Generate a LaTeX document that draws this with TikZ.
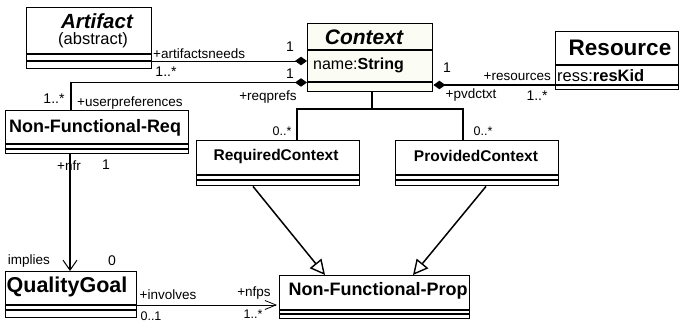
\documentclass[tikz,border=0pt]{standalone}
\usepackage{fontspec}
\setmainfont{Liberation Sans}
\usetikzlibrary{arrows.meta}
\definecolor{ctxfill}{RGB}{251,252,243}
\begin{document}
\begin{tikzpicture}[x=1pt,y=-1pt,
  cls/.style={draw, line width=1.4pt, inner sep=0pt, anchor=north west},
  sepl/.style={line width=1.4pt},
  ttl/.style={inner sep=0pt, font=\bfseries\fontsize{#1}{#1}\selectfont},
  ittl/.style={inner sep=0pt, font=\bfseries\itshape\fontsize{#1}{#1}\selectfont},
  attr/.style={inner sep=0pt, anchor=west, font=\fontsize{#1}{#1}\selectfont},
  lbl/.style={inner sep=0pt, font=\fontsize{13.5}{13.5}\selectfont},
  mult/.style={inner sep=0pt, font=\fontsize{14}{14}\selectfont},
  smult/.style={inner sep=0pt, font=\fontsize{12.5}{12.5}\selectfont},
  comp/.style={-{Diamond[length=12pt,width=8.5pt]}},
  thinlink/.style={line width=0.9pt},
  midlink/.style={line width=1.3pt},
  thicklink/.style={line width=1.6pt},
  gen/.style={line width=1.5pt, -{Triangle[open,length=15pt,width=15pt,fill=white,line width=1.4pt]}},
  nav/.style={-{Straight Barb[length=10pt,width=14pt,line width=1pt]}},
  smallnav/.style={-{Straight Barb[length=11pt,width=9pt,line width=0.8pt]}}
]
\useasboundingbox (0,0) rectangle (679,323);

% ---------- classes ----------
% Artifact
\node[cls, minimum width=125pt, minimum height=61pt] (art) at (26,7) {};
\draw[sepl] (art.west |- 0,54) -- (art.east |- 0,54);
\draw[sepl] (art.west |- 0,61) -- (art.east |- 0,61);
\node[ittl=20.5] (artT) at (97,21) {Artifact};
\node[inner sep=0pt, font=\fontsize{16.5}{16.5}\selectfont] (artS) at (93,40) {(abstract)};

% Context
\node[cls, fill=ctxfill, minimum width=125pt, minimum height=68pt] (ctx) at (307,23) {};
\draw[sepl] (ctx.west |- 0,50) -- (ctx.east |- 0,50);
\draw[sepl] (ctx.west |- 0,82) -- (ctx.east |- 0,82);
\node[ittl=21] (ctxT) at (364,37) {Context};
\node[attr=16] (ctxA) at (313,65) {name:\textbf{String}};

% Resource
\node[cls, minimum width=123pt, minimum height=58pt] (res) at (555,31) {};
\draw[sepl] (res.west |- 0,65) -- (res.east |- 0,65);
\draw[sepl] (res.west |- 0,85) -- (res.east |- 0,85);
\node[ttl=22.5] (resT) at (620,48) {Resource};
\node[attr=16.5] (resA) at (557,76) {ress:\textbf{resKid}};

% Non-Functional-Req
\node[cls, minimum width=183pt, minimum height=43pt] (nfr) at (5,110) {};
\draw[sepl] (nfr.west |- 0,144) -- (nfr.east |- 0,144);
\draw[sepl] (nfr.west |- 0,149) -- (nfr.east |- 0,149);
\node[ttl=18] (nfrT) at (95,128) {Non-Functional-Req};

% RequiredContext
\node[cls, minimum width=163pt, minimum height=45pt] (req) at (196,140) {};
\draw[sepl] (req.west |- 0,175) -- (req.east |- 0,175);
\draw[sepl] (req.west |- 0,180) -- (req.east |- 0,180);
\node[ttl=15.5] (reqT) at (276,156) {RequiredContext};

% ProvidedContext
\node[cls, minimum width=163pt, minimum height=45pt] (prov) at (395,140) {};
\draw[sepl] (prov.west |- 0,175) -- (prov.east |- 0,175);
\draw[sepl] (prov.west |- 0,180) -- (prov.east |- 0,180);
\node[ttl=15.5] (provT) at (476,156) {ProvidedContext};

% QualityGoal
\node[cls, minimum width=131pt, minimum height=46pt] (qg) at (5,271) {};
\draw[sepl] (qg.west |- 0,305) -- (qg.east |- 0,305);
\draw[sepl] (qg.west |- 0,310) -- (qg.east |- 0,310);
\node[ttl=21.5] (qgT) at (67,287) {QualityGoal};

% Non-Functional-Prop
\node[cls, minimum width=190pt, minimum height=43pt] (nfp) at (279,275) {};
\draw[sepl] (nfp.west |- 0,310) -- (nfp.east |- 0,310);
\draw[sepl] (nfp.west |- 0,314) -- (nfp.east |- 0,314);
\node[ttl=18] (nfpT) at (378,291) {Non-Functional-Prop};

% ---------- connectors ----------
\draw[thinlink, comp] (art.east |- 0,61) -- (ctx.west |- 0,61);
\draw[thicklink, comp] (nfr.north -| 71,0) |- (ctx.west |- 0,82.5);
\draw[midlink, {Diamond[length=12pt,width=8.5pt]}-] (ctx.east |- 0,85) -- (res.west |- 0,85);

\coordinate (jn) at (372,109);
\draw[line width=1.5pt] (ctx.south -| jn) -- (jn) -| (req.north -| 297,0);
\draw[line width=1.5pt] (jn) -| (prov.north -| 463,0);

\draw[gen] (req.south -| 253,0) -- (nfp.north -| 325,0);
\draw[gen] (prov.south -| 486,0) -- (nfp.north -| 413,0);

\draw[line width=1.3pt, nav] (nfr.south -| 70,0) -- (qg.north -| 70,0);
\draw[thinlink, smallnav, shorten >=2pt] (qg.east |- 0,305) -- (nfp.west |- 0,305);

% ---------- labels ----------
\node[lbl, anchor=west] (l1) at (153,54) {+artifactsneeds};
\node[mult] (m1) at (166,72) {1..*};
\node[mult] (m2) at (290,47) {1};
\node[mult] (m3) at (290,74) {1};
\node[lbl] (l2) at (268,97) {+reqprefs};
\node[mult] (m4) at (54,99) {1..*};
\node[lbl, anchor=west] (l3) at (77,103) {+userpreferences};
\node[mult] (m5) at (447,68) {1};
\node[lbl] (l4) at (471,95) {+pvdctxt};
\node[lbl, anchor=east] (l5) at (551,77) {+resources};
\node[mult] (m6) at (537,96) {1..*};
\node[smult] (m7) at (282,131) {0..*};
\node[smult] (m8) at (483,131) {0..*};
\node[lbl] (l6) at (69,166) {+nfr};
\node[mult] (m9) at (106,165) {1};
\node[lbl] (l7) at (29,261) {implies};
\node[mult] (m10) at (112,261) {0};
\node[lbl] (l8) at (168,295) {+involves};
\node[smult] (m11) at (151,316) {0..1};
\node[lbl] (l9) at (254,293) {+nfps};
\node[smult] (m12) at (253,314) {1..*};
\end{tikzpicture}
\end{document}
